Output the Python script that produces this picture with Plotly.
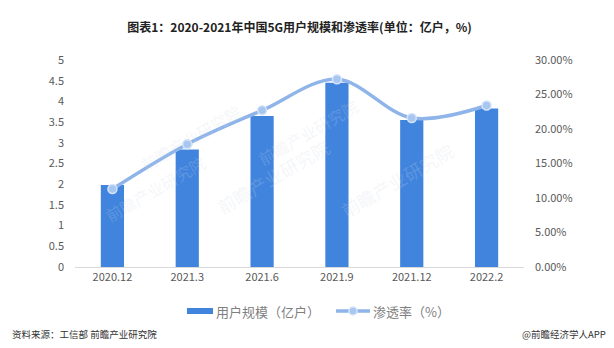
import plotly.graph_objects as go

# 5G users in China and penetration rate
periods = ["2020.12", "2021.3", "2021.6", "2021.9", "2021.12", "2022.2"]
users = [1.98, 2.84, 3.65, 4.45, 3.55, 3.83]            # 亿户
penetration = [0.113, 0.178, 0.227, 0.272, 0.216, 0.234]  # share

left_ticks = [0, 0.5, 1, 1.5, 2, 2.5, 3, 3.5, 4, 4.5, 5]
left_labels = ["0", "0.5", "1", "1.5", "2", "2.5", "3", "3.5", "4", "4.5", "5"]
right_ticks = [0, 0.05, 0.10, 0.15, 0.20, 0.25, 0.30]
right_labels = ["0.00%", "5.00%", "10.00%", "15.00%", "20.00%", "25.00%", "30.00%"]

FONT = "Noto Sans CJK SC"
BAR = "#4184DE"
LINE = "#8EB4E9"
TICK = "#595959"

W, H = 614, 348
ML, MR, MT, MB = 75, 90, 60, 81
PW, PH = W - ML - MR, H - MT - MB


def px(x):
    return (x - ML) / PW


def py(y):
    return (H - MB - y) / PH


fig = go.Figure()
fig.add_trace(go.Bar(
    x=periods, y=users, name="用户规模（亿户）",
    marker=dict(color=BAR, line=dict(width=0)),
    width=0.31, showlegend=False,
))
fig.add_trace(go.Scatter(
    x=periods, y=penetration, name="渗透率（%）", yaxis="y2",
    mode="lines+markers",
    line=dict(color=LINE, width=3.5, shape="spline", smoothing=1.0),
    marker=dict(size=9, color="#A8C7F0", line=dict(color="#D6E4F8", width=1.5)),
    showlegend=False,
))

# faint watermark text
for x, y, s in [(0.13, 0.82, 16), (0.52, 0.85, 16), (0.30, 0.22, 18), (0.86, 0.42, 18), (0.05, 0.18, 16)]:
    fig.add_annotation(x=x, y=y, xref="paper", yref="paper", text="前瞻产业研究院",
                       showarrow=False, textangle=-30,
                       font=dict(family=FONT, size=s, color="rgba(205,214,226,0.22)"))

# legend drawn as shapes + text
LEG_Y = 311
fig.add_shape(type="rect", xref="paper", yref="paper",
              x0=px(187), x1=px(213), y0=py(LEG_Y + 3), y1=py(LEG_Y - 3),
              fillcolor=BAR, line=dict(width=0))
fig.add_annotation(x=px(214), y=py(LEG_Y), xref="paper", yref="paper", text="用户规模（亿户）",
                   showarrow=False, xanchor="left", yanchor="middle",
                   font=dict(family=FONT, size=13, color="#7F7F7F"))
fig.add_shape(type="line", xref="paper", yref="paper",
              x0=px(336), x1=px(370), y0=py(LEG_Y), y1=py(LEG_Y),
              line=dict(color=LINE, width=3.5))
fig.add_shape(type="circle", xref="paper", yref="paper",
              x0=px(349), x1=px(357), y0=py(LEG_Y + 4), y1=py(LEG_Y - 4),
              fillcolor="#A8C7F0", line=dict(color="#D6E4F8", width=1.5))
fig.add_annotation(x=px(371), y=py(LEG_Y), xref="paper", yref="paper", text="渗透率（%）",
                   showarrow=False, xanchor="left", yanchor="middle",
                   font=dict(family=FONT, size=13, color="#7F7F7F"))

# footer
fig.add_annotation(x=px(10), y=py(334), xref="paper", yref="paper", text="资料来源：工信部 前瞻产业研究院",
                   showarrow=False, xanchor="left", yanchor="middle",
                   font=dict(family=FONT, size=9.5, color="#333333"))
fig.add_annotation(x=px(608), y=py(334), xref="paper", yref="paper",
                   text="@前瞻经济学人APP", showarrow=False, xanchor="right", yanchor="middle",
                   font=dict(family=FONT, size=9.5, color="#333333"))

fig.update_layout(
    width=W, height=H,
    margin=dict(l=ML, r=MR, t=MT, b=MB),
    paper_bgcolor="white", plot_bgcolor="white",
    font=dict(family=FONT, color=TICK, size=11),
    showlegend=False,
    title=dict(text="<b>图表1：2020-2021年中国5G用户规模和渗透率(单位：亿户，%)</b>",
               x=0.5, xref="paper", xanchor="center", y=0.92, yanchor="middle",
               font=dict(family=FONT, size=12, color="#222222")),
    xaxis=dict(showline=True, linecolor="#D9D9D9", linewidth=1, ticks="",
               tickfont=dict(size=11, color=TICK), showgrid=False),
    yaxis=dict(range=[0, 5], tickvals=left_ticks, ticktext=left_labels, showgrid=False,
               zeroline=False, showline=False, ticks="", ticklabelstandoff=10,
               tickfont=dict(size=11, color=TICK)),
    yaxis2=dict(range=[0, 0.30], tickvals=right_ticks, ticktext=right_labels,
                overlaying="y", side="right", showgrid=False, zeroline=False,
                showline=False, ticks="", ticklabelstandoff=10,
                tickfont=dict(size=11, color=TICK)),
)

fig.write_html("out.html")
